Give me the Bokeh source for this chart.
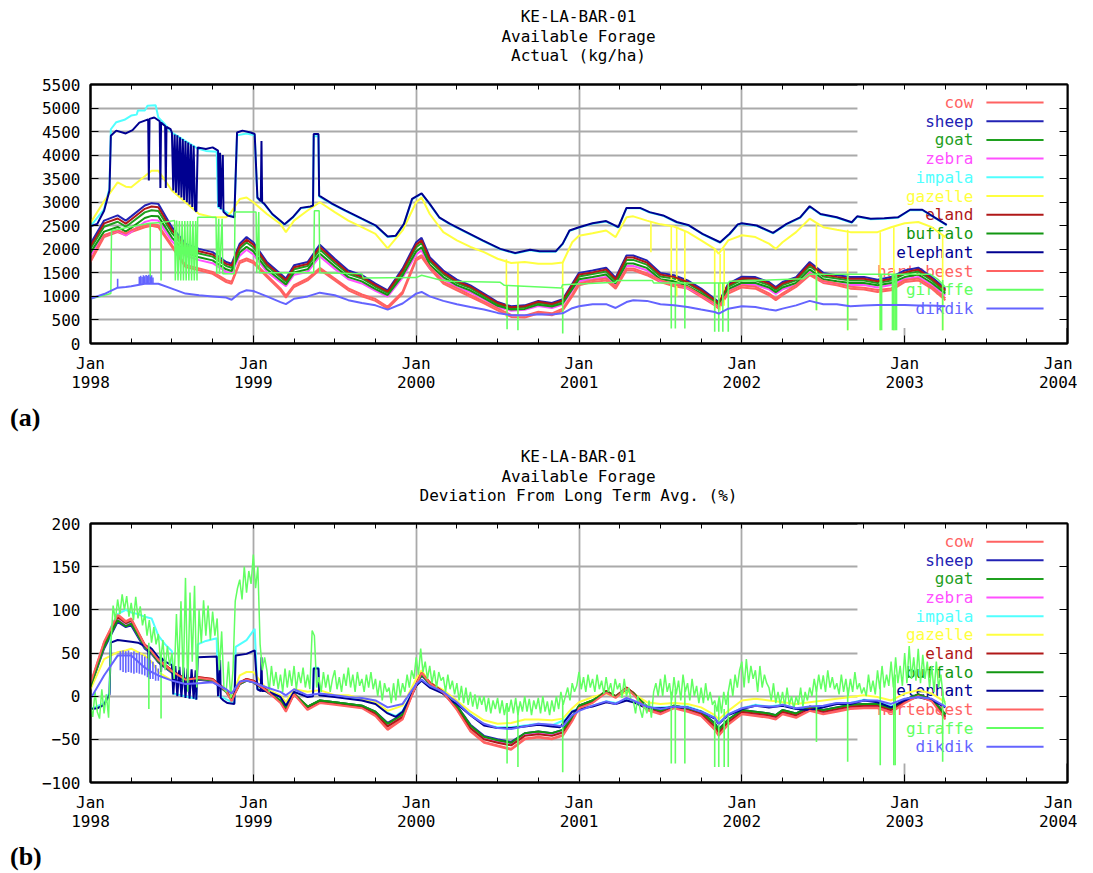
from bokeh.plotting import figure
from bokeh.models import (FixedTicker, Label, Arrow, BoxAnnotation, Range1d,
                          LinearAxis, Div)
from bokeh.layouts import column
from bokeh.embed import file_html
from bokeh.resources import INLINE

# ---------------- labels / categories ----------------
SPECIES = ["cow", "sheep", "goat", "zebra", "impala", "gazelle", "eland",
           "buffalo", "elephant", "hartebeest", "giraffe", "dikdik"]
COLORS = ["#ff6262", "#2222b4", "#1fa01f", "#ff50ff", "#50ffff", "#ffff40",
          "#b01818", "#129612", "#000090", "#ff6262", "#62ff62", "#6464ff"]
YEARS = [1998, 1999, 2000, 2001, 2002, 2003, 2004]
Y_TICKS_A = [0, 500, 1000, 1500, 2000, 2500, 3000, 3500, 4000, 4500, 5000, 5500]
Y_TICKS_B = [-100, -50, 0, 50, 100, 150, 200]
TITLE_A = ["KE-LA-BAR-01", "Available Forage", "Actual (kg/ha)"]
TITLE_B = ["KE-LA-BAR-01", "Available Forage", "Deviation From Long Term Avg. (%)"]

# ---------------- shared sample times (months since Jan 1998) ----------------
T = [0, 1, 2, 2.6, 3, 4, 4.5, 5, 6, 7, 8, 9, 10, 10.4, 11, 11.5, 12, 13, 14, 14.4,
     15, 16, 16.9, 18, 19, 20, 21, 21.9, 23, 24, 24.4, 25, 26, 27, 28, 29, 30, 31, 32, 33,
     34, 34.8, 35.5, 36, 37, 38, 38.7, 39.5, 40, 41, 42, 43, 44, 45, 46, 46.3, 47, 48, 49, 50,
     50.5, 51, 52, 53, 54, 55, 56, 57, 58, 59, 60, 61, 62, 63]

# ---------------- (a) actual forage, kg/ha ----------------
cow_a = [1730, 2260, 2365, 2295, 2365, 2470, 2500, 2470, 2050, 1625,
         1555, 1480, 1305, 1270, 1710, 1765, 1710, 1410, 1130, 975,
         1200, 1340, 1565, 1340, 1130, 1000, 905, 740, 1060, 1765,
         1835, 1590, 1270, 1130, 990, 850, 705, 565, 550, 635,
         600, 700, 1000, 1235, 1305, 1340, 1165, 1555, 1555, 1450,
         1305, 1215, 1165, 990, 810, 740, 1060, 1190, 1165, 1025,
         920, 1025, 1200, 1450, 1285, 1235, 1165, 1145, 1095, 1130,
         1305, 1340, 1165, 920]
sheep_a = [2120, 2610, 2720, 2610, 2700, 2930, 2980, 2965, 2470, 2120,
           2010, 1940, 1730, 1695, 2120, 2260, 2150, 1730, 1480, 1380,
           1660, 1730, 2100, 1800, 1550, 1450, 1270, 1130, 1590, 2150,
           2245, 1835, 1550, 1355, 1235, 1060, 880, 790, 810, 905,
           860, 940, 1270, 1500, 1550, 1610, 1400, 1870, 1870, 1765,
           1500, 1450, 1340, 1165, 950, 880, 1270, 1420, 1410, 1305,
           1200, 1305, 1410, 1730, 1500, 1450, 1410, 1410, 1355, 1410,
           1550, 1610, 1410, 1165]
goat_a = [2015, 2480, 2585, 2480, 2565, 2785, 2830, 2815, 2345, 2015,
          1910, 1845, 1645, 1610, 2015, 2145, 2045, 1645, 1405, 1310,
          1575, 1645, 1995, 1710, 1475, 1380, 1205, 1075, 1510, 2045,
          2135, 1745, 1475, 1285, 1175, 1005, 835, 750, 770, 860,
          815, 895, 1205, 1425, 1475, 1530, 1330, 1775, 1775, 1675,
          1425, 1380, 1275, 1105, 905, 835, 1205, 1350, 1340, 1240,
          1140, 1240, 1340, 1645, 1425, 1380, 1340, 1340, 1285, 1340,
          1475, 1530, 1340, 1105]
zebra_a = [1865, 2295, 2395, 2295, 2375, 2580, 2620, 2610, 2175, 1865,
           1770, 1705, 1520, 1490, 1865, 1990, 1890, 1520, 1300, 1215,
           1460, 1520, 1850, 1585, 1365, 1275, 1120, 995, 1400, 1890,
           1975, 1615, 1365, 1190, 1085, 935, 775, 695, 715, 795,
           755, 825, 1120, 1320, 1365, 1415, 1230, 1645, 1645, 1555,
           1320, 1275, 1180, 1025, 835, 775, 1120, 1250, 1240, 1150,
           1055, 1150, 1240, 1520, 1320, 1275, 1240, 1240, 1190, 1240,
           1365, 1415, 1240, 1025]
gazelle_a = [2560, 3020, 3420, 3330, 3320, 3550, 3670, 3670, 3250, 3000,
             2750, 2680, 2680, 2800, 3070, 3100, 3000, 2750, 2540, 2365,
             2610, 2825, 3000, 2790, 2610, 2470, 2330, 2020, 2400, 3000,
             3100, 2750, 2365, 2190, 2050, 1940, 1800, 1710, 1730, 1695,
             1695, 1720, 2150, 2290, 2340, 2400, 2260, 2680, 2700, 2610,
             2530, 2485, 2365, 2190, 2010, 1905, 2190, 2300, 2260, 2120,
             2010, 2150, 2365, 2650, 2470, 2415, 2365, 2365, 2365, 2470,
             2555, 2580, 2470, 2260]
eland_a = [2070, 2550, 2655, 2545, 2635, 2860, 2910, 2895, 2410, 2070,
           1960, 1890, 1690, 1655, 2070, 2205, 2100, 1690, 1445, 1345,
           1620, 1690, 2050, 1755, 1510, 1415, 1240, 1100, 1550, 2100,
           2190, 1790, 1510, 1320, 1205, 1035, 860, 770, 790, 885,
           840, 915, 1240, 1465, 1510, 1570, 1365, 1825, 1825, 1720,
           1465, 1415, 1305, 1135, 925, 860, 1240, 1385, 1375, 1275,
           1170, 1275, 1375, 1690, 1465, 1415, 1375, 1375, 1320, 1375,
           1510, 1570, 1375, 1135]
buffalo_a = [1930, 2375, 2475, 2375, 2455, 2665, 2710, 2700, 2250, 1930,
             1830, 1765, 1575, 1540, 1930, 2055, 1955, 1575, 1345, 1255,
             1510, 1575, 1910, 1640, 1410, 1320, 1155, 1030, 1445, 1955,
             2045, 1670, 1410, 1235, 1125, 965, 800, 720, 735, 825,
             785, 855, 1155, 1365, 1410, 1465, 1275, 1700, 1700, 1605,
             1365, 1320, 1220, 1060, 865, 800, 1155, 1290, 1285, 1190,
             1090, 1190, 1285, 1575, 1365, 1320, 1285, 1285, 1235, 1285,
             1410, 1465, 1285, 1060]
hartebeest_a = [1770, 2300, 2405, 2335, 2405, 2510, 2540, 2510, 2090, 1665,
                1595, 1520, 1345, 1310, 1750, 1805, 1750, 1450, 1170, 1015,
                1240, 1380, 1605, 1380, 1170, 1040, 945, 780, 1100, 1805,
                1875, 1630, 1310, 1170, 1030, 890, 745, 605, 590, 675,
                640, 740, 1040, 1275, 1345, 1380, 1205, 1595, 1595, 1490,
                1345, 1255, 1205, 1030, 850, 780, 1100, 1230, 1205, 1065,
                960, 1065, 1240, 1490, 1325, 1275, 1205, 1185, 1135, 1170,
                1345, 1380, 1205, 960]
dikdik_a = [950, 1050, 1185, 1200, 1215, 1270, 1270, 1270, 1165, 1060,
            1025, 1000, 975, 930, 1075, 1130, 1115, 1000, 880, 835,
            950, 1000, 1080, 1025, 920, 860, 810, 720, 850, 1060,
            1095, 1000, 905, 835, 775, 720, 650, 600, 600, 620,
            615, 640, 750, 790, 835, 835, 755, 880, 920, 905,
            835, 810, 775, 720, 670, 635, 740, 790, 775, 720,
            700, 740, 810, 905, 835, 835, 790, 805, 820, 820,
            820, 805, 805, 790]

elephant_t = [0.0, 0.5, 1.0, 1.4, 1.5, 1.9, 2.6, 3.1, 3.6, 4.25, 4.3, 4.35, 4.7, 5.1, 5.15,
              5.2, 5.5, 5.55, 5.6, 5.9, 6.0, 6.1, 6.2, 6.3, 6.4, 6.5, 6.6, 6.7, 6.8, 6.9,
              7.0, 7.1, 7.2, 7.3, 7.4, 7.5, 7.6, 7.7, 7.8, 7.9, 8.5, 9.0, 9.4, 9.45, 9.55,
              9.6, 9.75, 9.8, 10.1, 10.6, 10.8, 11.2, 11.8, 12.1, 12.3, 12.55, 12.6, 12.65,
              12.8, 13.4, 14.3, 14.9, 15.5, 16.2, 16.4, 16.45, 16.8, 16.85, 17.8, 18.8,
              20.0, 21.0, 21.9, 22.5, 23.1, 23.7, 24.4, 25.0, 25.7, 26.5, 27.7, 28.9, 30.2,
              31.3, 32.4, 33.1, 34.3, 34.8, 35.3, 36.0, 37.0, 38.0, 38.9, 39.5, 40.5, 41.2,
              42.2, 43.2, 44.1, 45.1, 46.4, 47.1, 47.7, 48.0, 49.1, 50.3, 51.3, 52.3, 53.0,
              53.8, 55.0, 56.1, 56.5, 57.5, 58.5, 59.5, 60.4, 61.3, 62.2, 63.1]
elephant_v = [2490, 2540, 2820, 3250, 4410, 4520, 4460, 4530, 4690, 4760, 3460, 4770, 4800,
              4720, 3300, 4690, 4620, 3300, 4600, 4550, 4480, 3250, 4440, 3200, 4420, 3150,
              4380, 3100, 4340, 3050, 4300, 3000, 4270, 2950, 4230, 2900, 4200, 2840, 2800,
              4165, 4130, 4165, 4095, 2900, 4050, 2850, 4000, 2800, 2720, 2680, 4480, 4520,
              4480, 4450, 3100, 3020, 4300, 3000, 2970, 2750, 2530, 2680, 2880, 2910, 2930,
              4450, 4450, 3140, 2970, 2820, 2650, 2510, 2270, 2290, 2540, 3070, 3190, 2965,
              2680, 2540, 2365, 2190, 2010, 1920, 1990, 1960, 1960, 2120, 2400, 2470, 2555,
              2600, 2470, 2880, 2880, 2790, 2720, 2580, 2510, 2330, 2150, 2330, 2530, 2555,
              2505, 2350, 2540, 2680, 2915, 2750, 2680, 2575, 2700, 2650, 2660, 2680, 2840,
              2840, 2680, 2520]

impala_t = [0, 1.0, 1.4, 1.5, 1.9, 2.5, 3.0, 3.4, 3.5, 4.0, 4.2, 4.8, 5.0, 5.5, 6.0, 7.9,
            8.5, 9.3, 9.4, 10.6, 10.8, 11.5, 12.1, 12.3, 12.8, 13.4, 14.3, 14.9, 15.5, 16.2,
            16.4, 16.45, 16.8, 16.85, 17.8, 18.8, 20.0, 21.0, 21.9, 22.5, 23.1, 23.7, 24.4,
            25.0, 25.7, 26.5, 27.7, 28.9, 30.2, 31.3, 32.4, 33.1, 34.3, 34.8, 35.3, 36.0,
            37.0, 38.0, 38.9, 39.5, 40.5, 41.2, 42.2, 43.2, 44.1, 45.1, 46.4, 47.1, 47.7,
            48.0, 49.1, 50.3, 51.3, 52.3, 53.0, 53.8, 55.0, 56.1, 56.5, 57.5, 58.5, 59.5,
            60.4, 61.3, 62.2, 63.1]
impala_v = [2490, 2850, 3300, 4550, 4700, 4750, 4840, 4860, 4950, 4950, 5050, 5060, 4800,
            4650, 4480, 4140, 4090, 4070, 2900, 2680, 4420, 4460, 4420, 3080, 2960, 2740,
            2520, 2670, 2870, 2900, 2920, 4400, 4400, 3120, 2960, 2810, 2640, 2500, 2260,
            2280, 2530, 3060, 3180, 2955, 2670, 2530, 2355, 2180, 2000, 1910, 1980, 1950,
            1950, 2110, 2390, 2460, 2545, 2590, 2460, 2870, 2870, 2780, 2710, 2570, 2500,
            2320, 2140, 2320, 2520, 2545, 2495, 2340, 2530, 2670, 2905, 2740, 2670, 2565,
            2690, 2640, 2650, 2670, 2830, 2830, 2670, 2510]

giraffe_t = [0, 0.7, 1.5, 1.55, 3.0, 4.35, 5.3, 6.2, 6.25, 6.35, 6.45, 6.55, 6.65, 6.75,
             6.85, 6.95, 7.05, 7.15, 7.25, 7.35, 7.45, 7.55, 7.65, 7.75, 7.85, 7.9, 9.25,
             9.3, 9.45, 9.5, 9.7, 9.75, 10.6, 10.65, 12.2, 12.25, 12.4, 12.45, 12.6, 16.45,
             16.5, 16.85, 16.9, 20.0, 20.1, 24.0, 24.4, 25.7, 26.5, 30.2, 30.5, 34.7, 34.8,
             38.7, 38.8, 41.4, 41.5, 47.0, 47.1, 52.5, 53.0, 61.9, 62.5, 63.0]
giraffe_v = [950, 1000, 1060, 2400, 2480, 2555, 2570, 2610, 1340, 2610, 1340, 2600, 1340,
             2600, 1340, 2600, 1340, 2600, 1340, 2600, 1340, 2600, 1340, 2600, 1340, 2680,
             2680, 1480, 2650, 1480, 2650, 1480, 1480, 2790, 2790, 1500, 2790, 1500, 1500,
             1500, 2820, 2820, 1500, 1480, 1390, 1400, 1450, 1355, 1320, 1300, 1235, 1180,
             1250, 1300, 1340, 1340, 1285, 1285, 1320, 1375, 1470, 1470, 1350, 1200]

# short drops / bursts (month, from, to)
dikdik_spk_t = [2.0, 3.6, 3.7, 3.8, 3.9, 4.0, 4.1, 4.2, 4.3, 4.4, 4.5, 4.6]
dikdik_spk_from = [1185, 1260, 1265, 1270, 1270, 1270, 1270, 1270, 1270, 1270, 1270, 1270]
dikdik_spk_to = [1375, 1420, 1440, 1410, 1450, 1430, 1455, 1440, 1460, 1420, 1450, 1400]
giraffe_spk_t = [4.4, 5.2, 30.7, 31.5, 34.8, 42.8, 43.1, 43.8, 46.0, 46.3, 46.6, 47.0,
                 53.5, 55.8, 58.2, 58.3, 59.1, 59.2, 59.3, 59.4, 62.8]
giraffe_spk_from = [2555, 2570, 1235, 1230, 1180, 1285, 1285, 1285, 1285, 1285, 1285, 1285,
                    1470, 1470, 1470, 1470, 1470, 1470, 1470, 1470, 1350]
giraffe_spk_to = [1340, 1340, 300, 280, 210, 318, 318, 318, 250, 250, 250, 250,
                  705, 280, 280, 280, 280, 280, 280, 280, 280]
gazelle_spk_t = [30.65, 31.5, 34.8, 41.3, 42.8, 43.2, 43.8, 46.0, 46.4, 46.7, 53.5, 55.8,
                 58.2, 59.2, 62.8]
gazelle_spk_from = [1790, 1710, 1720, 2600, 2500, 2480, 2380, 2010, 1900, 2000, 2540, 2415,
                    2365, 2470, 2300]
gazelle_spk_to = [565, 500, 635, 1940, 1000, 1000, 1060, 700, 700, 800, 705, 280, 280, 280, 280]

# ---------------- (b) deviation from long-term average, % ----------------
cow_b = [14, 62, 95, 87, 90, 60, 53, 43, 30, 20, 22, 20, 7, -5, 16, 20, 18, 7, -7, -17,
         3, -15, -7, -9, -11, -13, -22, -38, -26, 14, 28, 16, 5, -15, -40, -53, -57, -61, -49, -47,
         -49, -45, -28, -13, -7, 5, -1, 10, 3, -15, -20, -13, -17, -22, -38, -45, -32, -20, -22, -24,
         -26, -20, -24, -16, -20, -17, -14, -13, -13, -18, -7, 1, -5, -26]
sheep_b = [10, 55, 86, 80, 82, 55, 49, 39, 27, 17, 19, 17, 5, -4, 14, 18, 16, 5, -5, -13,
           2, -12, -5, -7, -9, -11, -18, -31, -21, 12, 24, 14, 3, -11, -33, -46, -50, -53, -43, -41,
           -43, -39, -24, -11, -5, 5, -1, 8, 3, -12, -17, -11, -14, -18, -31, -38, -27, -16, -18, -20,
           -22, -16, -20, -12, -16, -13, -10, -9, -9, -14, -4, 2, -4, -21]
goat_b = [12, 58, 90, 83, 86, 58, 51, 41, 29, 19, 21, 19, 6, -4, 15, 19, 17, 6, -5, -14,
          3, -12, -5, -7, -9, -11, -19, -33, -22, 13, 26, 15, 4, -12, -35, -48, -52, -55, -44, -42,
          -44, -40, -25, -11, -5, 6, 0, 9, 4, -12, -17, -11, -14, -19, -33, -40, -28, -17, -19, -21,
          -23, -17, -21, -13, -17, -14, -11, -10, -10, -15, -5, 2, -4, -22]
zebra_b = [12, 58, 89, 82, 85, 57, 50, 40, 28, 18, 20, 18, 5, -4, 14, 18, 16, 5, -6, -14,
           2, -13, -6, -8, -10, -12, -19, -34, -23, 12, 25, 14, 3, -12, -36, -49, -53, -56, -45, -43,
           -45, -41, -25, -12, -6, 5, -1, 9, 3, -13, -18, -12, -15, -20, -34, -41, -29, -18, -20, -22,
           -24, -18, -22, -14, -18, -15, -12, -11, -11, -16, -5, 1, -4, -23]
gazelle_b = [8, 43, 51, 53, 55, 47, 40, 28, 18, 16, 20, 20, 5, -1, 24, 28, 28, 8, 1, -7,
             8, 5, 7, 1, 1, -3, -7, -17, -11, 20, 30, 16, 7, -5, -18, -28, -32, -31, -27, -27,
             -28, -26, -14, -7, -1, 3, -1, 5, 3, -7, -9, -8, -9, -13, -22, -27, -17, -5, -3, -5,
             -6, -7, -9, -7, -5, -3, -1, 1, -1, -5, 3, 7, 3, -7]
eland_b = [13, 60, 92, 85, 88, 59, 52, 42, 30, 20, 22, 20, 7, -4, 16, 20, 18, 7, -6, -15,
           3, -13, -6, -8, -10, -12, -20, -35, -24, 14, 27, 16, 5, -13, -37, -50, -54, -57, -46, -44,
           -46, -42, -26, -12, -6, 6, 0, 10, 4, -13, -18, -12, -15, -20, -35, -42, -30, -18, -20, -22,
           -24, -18, -22, -14, -18, -15, -12, -11, -11, -16, -6, 2, -4, -24]
buffalo_b = [11, 57, 88, 81, 84, 57, 50, 40, 28, 18, 20, 18, 5, -4, 14, 18, 16, 5, -5, -13,
             2, -12, -5, -7, -9, -11, -18, -32, -21, 12, 25, 14, 3, -11, -34, -47, -51, -54, -43, -41,
             -43, -39, -24, -11, -5, 5, -1, 8, 3, -12, -17, -11, -14, -18, -32, -39, -27, -16, -18, -20,
             -22, -16, -20, -12, -16, -13, -10, -9, -9, -14, -4, 2, -4, -21]
hartebeest_b = [15, 63, 94, 86, 89, 59, 52, 42, 29, 19, 21, 19, 6, -6, 15, 19, 17, 6, -8, -18,
                2, -16, -8, -10, -12, -14, -23, -39, -27, 13, 27, 15, 4, -16, -41, -54, -58, -62, -50, -48,
                -50, -46, -29, -14, -8, 4, -2, 9, 2, -16, -21, -14, -18, -23, -39, -46, -33, -21, -23, -25,
                -27, -21, -25, -17, -21, -18, -15, -14, -14, -19, -8, 0, -6, -27]
dikdik_b = [-3, 24, 47, 47, 47, 33, 28, 24, 18, 14, 15, 16, 8, 3, 17, 18, 16, 10, 5, 1,
            8, 1, 3, 1, -1, -2, -5, -13, -9, 14, 19, 12, 5, -7, -22, -32, -37, -38, -35, -32,
            -33, -35, -22, -17, -11, -6, -9, -2, -5, -12, -15, -12, -13, -18, -25, -32, -21, -14, -11, -12,
            -12, -10, -14, -12, -11, -8, -8, -5, -5, -9, -3, -1, -3, -12]

elephant_b_t = [0, 0.5, 1.0, 1.4, 1.5, 2.0, 3.0, 3.5, 4.0, 4.25, 4.3, 4.35, 4.5, 5.0, 5.15,
                5.2, 5.25, 5.5, 6.0, 6.1, 6.25, 6.4, 6.55, 6.7, 6.85, 7.0, 7.15, 7.3, 7.45,
                7.6, 7.75, 7.8, 7.9, 9.3, 9.4, 9.55, 9.6, 9.8, 10.1, 10.6, 10.7, 11.5, 12.1,
                12.3, 12.55, 12.6, 12.65, 13.0, 14.0, 14.4, 15.0, 16.0, 16.4, 16.45, 16.8,
                16.85, 18, 19, 20, 21, 21.9, 22.5, 23, 24, 24.4, 25, 26, 26.5, 27, 28, 29, 30,
                31, 32, 33, 34, 34.6, 35, 35.5, 36, 37, 38, 38.7, 39.5, 40, 41, 42, 43, 44, 45,
                46, 46.3, 47, 47.8, 48, 49, 50, 51, 52, 53, 54, 55, 56, 57, 58, 59, 60, 61, 62, 63]
elephant_b_v = [-15, -14, -10, 2, 62, 65, 63, 62, 58, 57, 25, 57, 55, 45, 44, 28, 44, 40, 36,
                2, 35, 0, 34, -1, 33, -2, 32, -3, 31, -3, 30, -4, 45, 46, 0, 42, -2, -5, -8, -9,
                47, 49, 53, 8, 6, 45, 6, 6, -1, -11, 5, -1, 0, 32, 32, 1, -1, -3, -5, -9, -20,
                -24, -18, 12, 18, 10, 3, -5, -9, -22, -34, -37, -37, -35, -33, -35, -36, -28,
                -18, -15, -12, -7, -9, -5, -7, -14, -14, -13, -13, -18, -26, -32, -22, -17, -15,
                -11, -13, -11, -15, -16, -13, -9, -9, -5, -7, -13, -5, -1, -5, -13]
impala_b_t = [0, 1.0, 1.4, 1.5, 2.0, 2.6, 3.0, 3.5, 4.0, 4.5, 5.0, 5.5, 6.0, 6.1, 7.8, 7.9,
              8.5, 9.3, 9.4, 10.6, 10.7, 11.5, 12.1, 12.3, 13, 14, 14.4, 15, 16, 16.4, 16.45,
              16.8, 16.85, 18, 19, 20, 21, 21.9, 22.5, 23, 24, 24.4, 25, 26, 27, 28, 29, 30, 31,
              32, 33, 34, 35, 35.5, 36, 37, 38, 38.7, 39.5, 40, 41, 42, 43, 44, 45, 46, 46.3,
              47, 48, 49, 50, 51, 52, 53, 54, 55, 56, 57, 58, 59, 60, 61, 62, 63]
impala_b_v = [-15, -8, 4, 80, 95, 100, 97, 95, 92, 90, 70, 60, 52, 3, -3, 60, 64, 67, 1, -8,
              57, 65, 78, 8, 6, -1, -11, 5, 0, 1, 33, 33, 2, 0, -2, -4, -8, -19, -23, -17, 13,
              19, 11, 4, -8, -21, -33, -36, -36, -34, -32, -34, -27, -17, -14, -11, -6, -8, -4,
              -6, -13, -13, -12, -12, -17, -25, -31, -21, -14, -10, -12, -10, -14, -15, -12,
              -8, -8, -4, -6, -12, -4, 0, -4, -12]
# giraffe deviation, six readings per month from Jan 1998
giraffe_b = [-12, -24, 5, -18, -26, 8,   -20, 2, -25, 60, 105, 88,
             112, 95, 118, 100, 116, 92,  108, 88, 115, 90, 104, 82,
             95, 70, 88, 62, 80, 60,      72, 40, 65, 30, 58, 35,
             50, 20, 95, 30, 110, 15,     137, 5, 120, 40, 128, 10,
             100, 62, 111, 70, 105, 65,   98, 70, 90, 30, 75, 10,
             5, 40, -2, 30, 110, 125,     135, 112, 150, 120, 145, 130,
             164, 125, 150, 60, 30, 45,   30, 5, 35, 12, 28, 8,
             25, 5, 32, 10, 30, 12,       35, 8, 28, 15, 33, 10,
             25, 8, 76, 70, 10, 22,       5, 28, 10, 25, 5, 20,
             30, 8, 22, 5, 26, 12,        33, 10, 25, 5, 28, 12,
             20, 5, 25, 10, 28, 8,        20, 0, 18, -5, 15, 5,
             10, -8, 15, -5, 20, 0,       15, 5, 25, 10, 30, 20,
             45, 25, 55, 28, 40, 20,      35, 15, 30, 10, 28, 18,
             22, 5, 25, 8, 18, 2,         15, -5, 12, -8, 10, -10,
             5, -12, 2, -15, 0, -10,      0, -18, -2, -20, -5, -15,
             -2, -20, -5, -22, -8, -18,   -4, -20, -2, -22, -6, -18,
             0, -18, -3, -22, -5, -15,    -2, -20, 0, -18, -6, -22,
             -5, -18, 0, -15, 5, -10,     0, 10, -5, 15, 5, 12,
             28, 8, 22, 5, 25, 10,        20, 5, 25, 8, 18, 3,
             22, 5, 15, 0, 20, 8,         15, -2, 20, 0, 10, -5,
             -5, -20, 0, -15, -25, -8,    -20, -5, -25, 5, 15, 0,
             20, 0, 25, 5, 15, -5,        22, 2, 18, -5, 25, 5,
             15, -5, 20, 0, 12, -8,       10, -8, 15, -5, 5, -10,
             -5, -18, 0, -20, 5, -10,     5, 20, 0, 25, 10, 30,
             40, 10, 43, 15, 35, 20,      30, 5, 35, 10, 25, 15,
             10, -5, 15, -8, 5, -10,      5, -12, 10, -10, 0, -15,
             0, -10, 10, -12, 5, -5,      10, 0, 20, 5, 25, 8,
             24, 5, 30, 10, 22, 8,        15, 2, 25, 5, 20, 0,
             20, 5, 28, 8, 15, 3,         10, 0, 25, 5, 18, 2,
             30, 8, 35, 10, 25, 12,       40, 10, 45, 15, 35, 12,
             50, 15, 58, 20, 45, 18,      55, 15, 48, 20, 40, 10,
             35, 5, 40, 10, 25, 0,        -10]
giraffe_b_spk_t = [4.3, 5.2, 30.7, 31.5, 34.8, 42.8, 43.1, 43.8, 46.0, 46.3, 46.7, 47.0,
                   53.5, 55.8, 58.2, 59.2, 59.3, 62.8]
giraffe_b_spk_from = [62, 48, -8, -12, -5, 5, 8, 10, -10, -5, -15, 5, 10, 10, 18, 20, 25, 5]
giraffe_b_spk_to = [-15, -26, -78, -82, -88, -78, -78, -78, -82, -82, -82, -82, -53, -76,
                    -80, -80, -80, -76]
dikdik_b_spk_t = [2.2, 2.4, 2.6, 2.8, 3.0, 3.2, 3.4, 3.6, 3.8, 4.0, 4.2, 4.4, 4.6, 4.8, 5.0]
dikdik_b_spk_from = [52, 53, 52, 53, 51, 52, 50, 51, 48, 46, 44, 42, 40, 36, 32]
dikdik_b_spk_to = [30, 28, 27, 28, 27, 26, 27, 26, 25, 24, 22, 20, 20, 18, 18]

MONO = "DejaVu Sans Mono"
FS = "16px"


def yr(months):
    return [1998 + m / 12.0 for m in months]


def title_div(lines):
    html = ('<div style="width:977px;margin-left:90px;text-align:center;'
            'font-family:\'DejaVu Sans Mono\',monospace;font-size:16px;line-height:19.5px;'
            'color:black;padding-top:7px;white-space:pre">%s</div>' % "<br>".join(lines))
    return Div(text=html, width=1077, height=66, margin=(0, 0, 0, 0))


def make_fig(ylo, yhi, yticks, height, top_border, bottom):
    p = figure(width=1077, height=height, x_range=Range1d(1998, 2004),
               y_range=Range1d(ylo, yhi), output_backend="svg", toolbar_location=None,
               title=None, min_border_left=90, min_border_right=10, min_border_top=top_border,
               min_border_bottom=bottom, margin=(0, 0, 0, 0))
    quarters = [1998 + q / 4 for q in range(25)]
    xt = FixedTicker(ticks=YEARS, minor_ticks=quarters)
    yt = FixedTicker(ticks=yticks, minor_ticks=[])
    xa = p.xaxis[0]
    ya = p.yaxis[0]
    xa.ticker = xt
    xa.major_label_overrides = {y: "Jan\n%d" % y for y in YEARS}
    ya.ticker = yt
    # tick-only frame sides (no labels)
    top = LinearAxis(ticker=FixedTicker(ticks=[], minor_ticks=quarters))
    right = LinearAxis(ticker=FixedTicker(ticks=[], minor_ticks=yticks))
    p.add_layout(top, "above")
    p.add_layout(right, "right")
    for ax in (xa, ya, top, right):
        ax.major_tick_in = 8
        ax.major_tick_out = 0
        ax.minor_tick_in = 5
        ax.minor_tick_out = 0
        ax.axis_line_color = "black"
        ax.axis_line_width = 2
        ax.major_tick_line_color = "black"
        ax.minor_tick_line_color = "black"
        ax.major_label_text_font = MONO
        ax.major_label_text_font_size = FS
        ax.major_label_text_color = "black"
        ax.major_label_text_line_height = 1.0
        ax.major_label_standoff = 10
    right.minor_tick_in = 8
    p.xgrid.ticker = FixedTicker(ticks=YEARS)
    p.ygrid.ticker = yt
    p.grid.grid_line_color = "#aaaaaa"
    p.grid.grid_line_width = 1.8
    p.outline_line_color = "black"
    p.outline_line_width = 2
    p.background_fill_color = "white"
    return p


def add_legend(p, box_bottom, box_top, y_first, y_step):
    p.add_layout(BoxAnnotation(left=2002.71, right=2004, bottom=box_bottom, top=box_top,
                               fill_color="white", fill_alpha=1, line_color=None,
                               level="underlay"))
    for i, (name, c) in enumerate(zip(SPECIES, COLORS)):
        y = y_first - i * y_step
        p.add_layout(Label(x=2003.422, y=y, text=name, text_align="right",
                           text_baseline="middle", text_color=c, text_font=MONO,
                           text_font_size=FS, level="underlay"))
        p.add_layout(Arrow(end=None, x_start=2003.502, y_start=y, x_end=2003.853, y_end=y,
                           line_color=c, line_width=2, level="underlay"))


def draw(p, series, spikes):
    for name, c in zip(SPECIES, COLORS):
        t, v = series[name]
        w = 1.5 if name == "giraffe" else 2.0
        p.line(yr(t), v, line_color=c, line_width=w)
        if name in spikes:
            st, s0, s1 = spikes[name]
            x = yr(st)
            p.segment(x0=x, y0=s0, x1=x, y1=s1, line_color=c, line_width=1.6)


# ---------- panel (a) ----------
ta = title_div(TITLE_A)
pa = make_fig(0, 5500, Y_TICKS_A, 329, 18, 52)
add_legend(pa, 330, 5500, 5120, 398)
series_a = {
    "cow": (T, cow_a), "sheep": (T, sheep_a), "goat": (T, goat_a), "zebra": (T, zebra_a),
    "impala": (impala_t, impala_v), "gazelle": (T, gazelle_a), "eland": (T, eland_a),
    "buffalo": (T, buffalo_a), "elephant": (elephant_t, elephant_v),
    "hartebeest": (T, hartebeest_a), "giraffe": (giraffe_t, giraffe_v), "dikdik": (T, dikdik_a),
}
spikes_a = {
    "gazelle": (gazelle_spk_t, gazelle_spk_from, gazelle_spk_to),
    "giraffe": (giraffe_spk_t, giraffe_spk_from, giraffe_spk_to),
    "dikdik": (dikdik_spk_t, dikdik_spk_from, dikdik_spk_to),
}
draw(pa, series_a, spikes_a)

# ---------- panel (b) ----------
tb = title_div(TITLE_B)
pb = make_fig(-100, 200, Y_TICKS_B, 328, 17, 52)
add_legend(pb, -78, 200, 179, 21.6)
giraffe_b_t = [k / 6.0 for k in range(len(giraffe_b))]
series_b = {
    "cow": (T, cow_b), "sheep": (T, sheep_b), "goat": (T, goat_b), "zebra": (T, zebra_b),
    "impala": (impala_b_t, impala_b_v), "gazelle": (T, gazelle_b), "eland": (T, eland_b),
    "buffalo": (T, buffalo_b), "elephant": (elephant_b_t, elephant_b_v),
    "hartebeest": (T, hartebeest_b), "giraffe": (giraffe_b_t, giraffe_b), "dikdik": (T, dikdik_b),
}
spikes_b = {
    "giraffe": (giraffe_b_spk_t, giraffe_b_spk_from, giraffe_b_spk_to),
    "dikdik": (dikdik_b_spk_t, dikdik_b_spk_from, dikdik_b_spk_to),
}
draw(pb, series_b, spikes_b)

LBL = ("font-family:'Liberation Serif',serif;font-weight:bold;font-size:26px;"
       "line-height:26px;")
da = Div(text='<div style="%spadding-top:10px;padding-left:10px">(a)</div>' % LBL,
         width=200, height=45, margin=(0, 0, 0, 0))
db = Div(text='<div style="%spadding-top:10px;padding-left:10px">(b)</div>' % LBL,
         width=200, height=39, margin=(0, 0, 0, 0))

layout = column(ta, pa, da, tb, pb, db, spacing=0, margin=(0, 0, 0, 0))
open("out.html", "w").write(file_html(layout, INLINE))
